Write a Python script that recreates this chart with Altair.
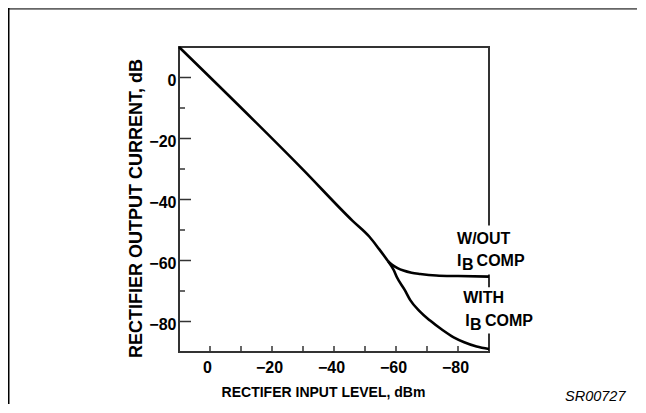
import altair as alt
import pandas as pd

# ---- curve data ----
common_x = [10, -30, -46, -51.5, -54.5, -57.5]
common_y = [10, -30.2, -47, -52.3, -56.2, -60.3]

wout_x = [-57.5, -59, -60.5, -62.4, -65, -67.8, -73, -80, -90]
wout_y = [-60.3, -61.6, -62.5, -63.3, -64, -64.4, -64.9, -65.1, -65.3]

with_x = [-57.5, -59.3, -60.3, -62.9, -64.6, -67.5, -71, -75, -78.6, -82, -86, -90]
with_y = [-60.3, -63.2, -65.5, -69.8, -73, -76.5, -79.7, -82.8, -85.2, -86.8, -88.2, -89]

# ---- axis ticks ----
y_major = [0, -20, -40, -60, -80]
y_minor = [-10, -30, -50, -70]
x_ticks = [0, -10, -20, -30, -40, -50, -60, -70, -80]

# ---- annotations ----
label_text = ["W/OUT", "I", "B", "COMP", "WITH", "I", "B", "COMP"]
label_x = [-79.7, -79.7, -81.3, -86.0, -81.7, -82.3, -83.9, -88.7]
label_y = [-54.7, -61.9, -63.2, -61.9, -74.0, -81.6, -82.7, -81.6]

bg_x = [-78.1, -80.0]
bg_x2 = [-103.0, -104.5]
bg_y = [-48.5, -68.8]
bg_y2 = [-64.6, -83.9]

FONT = "Liberation Sans"

xs = alt.Scale(domain=[-90, 10], reverse=True, nice=False, zero=False)
ys = alt.Scale(domain=[-90, 10], nice=False, zero=False)

df_common = pd.DataFrame({"x": common_x, "y": common_y})
df_wout = pd.DataFrame({"x": wout_x, "y": wout_y})
df_with = pd.DataFrame({"x": with_x, "y": with_y})

x_enc = alt.X("x:Q", scale=xs,
              axis=alt.Axis(values=[0, -20, -40, -60, -80], format="d",
                            title="RECTIFER INPUT LEVEL, dBm", titlePadding=10,
                            labelPadding=7, labelOffset=-3, titleX=144))
y_enc = alt.Y("y:Q", scale=ys,
              axis=alt.Axis(values=y_major, format="d",
                            title="RECTIFIER OUTPUT CURRENT, dB", titlePadding=3,
                            titleY=161, titleFontSize=18, labelPadding=3, labelOffset=3))

bg = alt.Chart(pd.DataFrame({"x": bg_x, "x2": bg_x2, "y": bg_y, "y2": bg_y2})).mark_rect(
    color="white").encode(
    x=alt.X("x:Q", scale=xs), x2="x2:Q", y=alt.Y("y:Q", scale=ys), y2="y2:Q")

def curve(df):
    return alt.Chart(df).mark_line(color="black", strokeWidth=2.6,
                                   interpolate="monotone").encode(x=x_enc, y=y_enc)

ymaj = alt.Chart(pd.DataFrame({"y": y_major})).mark_rule(color="#333", strokeWidth=1.5).encode(
    y=alt.Y("y:Q", scale=ys), x=alt.value(0), x2=alt.value(12))
ymin = alt.Chart(pd.DataFrame({"y": y_minor})).mark_rule(color="#333", strokeWidth=1.5).encode(
    y=alt.Y("y:Q", scale=ys), x=alt.value(0), x2=alt.value(6))
xtk = alt.Chart(pd.DataFrame({"x": x_ticks})).mark_rule(color="#333", strokeWidth=1.5).encode(
    x=alt.X("x:Q", scale=xs), y=alt.value(305), y2=alt.value(299))

labels = alt.Chart(pd.DataFrame({"x": label_x, "y": label_y, "t": label_text})).mark_text(
    font=FONT, fontWeight="bold", fontSize=16, align="left", baseline="alphabetic",
    color="black").encode(x=alt.X("x:Q", scale=xs), y=alt.Y("y:Q", scale=ys), text="t:N")

dummy = pd.DataFrame({"a": [0]})
code = alt.Chart(dummy).mark_text(font=FONT, fontStyle="italic", fontSize=14.5,
                                  align="left", baseline="alphabetic", color="black").encode(
    x=alt.value(386), y=alt.value(354), text=alt.value("SR00727"))
frame_top = alt.Chart(dummy).mark_rule(color="#666", strokeWidth=2).encode(
    x=alt.value(-172), x2=alt.value(480), y=alt.value(-38.2))
frame_left = alt.Chart(dummy).mark_rule(color="black", strokeWidth=2).encode(
    x=alt.value(-170.5), y=alt.value(-39), y2=alt.value(360))

chart = alt.layer(
    bg, curve(df_common), curve(df_wout), curve(df_with),
    ymaj, ymin, xtk, labels, code, frame_top, frame_left
).properties(
    width=310, height=305,
    autosize=alt.AutoSizeParams(type="none"),
    padding={"left": 171, "top": 39, "right": 148, "bottom": 52},
    background="white",
).configure_view(
    stroke="#333", strokeWidth=2
).configure_axis(
    domain=False, ticks=False, grid=False,
    labelFont=FONT, labelFontWeight="bold", labelFontSize=16, labelColor="black",
    titleFont=FONT, titleFontWeight="bold", titleFontSize=14, titleColor="black",
)

chart.save("out.html", embed_options={"renderer": "svg", "actions": False})
